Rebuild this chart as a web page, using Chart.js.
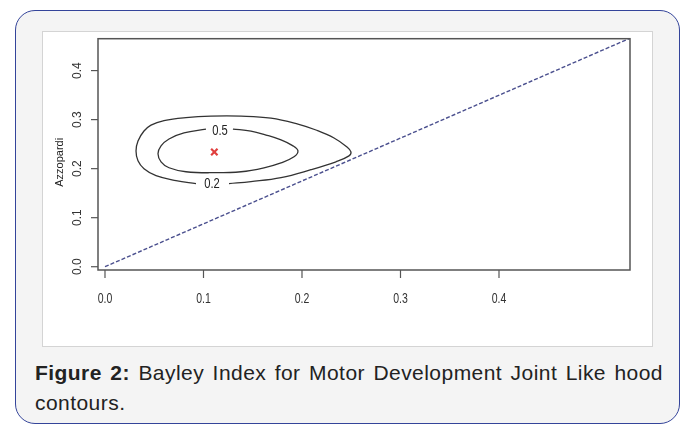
<!DOCTYPE html>
<html><head><meta charset="utf-8">
<script src="https://cdn.jsdelivr.net/npm/chart.js@4.4.1/dist/chart.umd.min.js"></script>
<style>
html,body{margin:0;padding:0;background:#fff;width:684px;height:425px;overflow:hidden;}
#card{position:absolute;left:15px;top:10px;width:665px;height:414px;border:1.5px solid #34449a;border-radius:20px;background:#f4f4f4;box-sizing:border-box;}
#panel{position:absolute;left:42px;top:31px;width:611px;height:316px;background:#fff;border:1px solid #d4d4d4;box-sizing:border-box;}
#panel canvas{position:absolute;left:0;top:0;}
#cap{position:absolute;left:35px;top:358px;width:628px;font-family:"Liberation Sans",Arial,sans-serif;font-size:21px;letter-spacing:0.45px;line-height:30px;color:#222;text-align:justify;}
</style></head>
<body>
<div id="card"></div>
<div id="panel"><canvas id="c" width="609" height="314"></canvas></div>
<div id="cap"><b>Figure 2:</b> Bayley Index for Motor Development Joint Like hood contours.</div>
<script>
// ---- data ----
const xTicks = [0, 0.1, 0.2, 0.3, 0.4];
const yTicks = [0, 0.1, 0.2, 0.3, 0.4];
const tickLabels = ['0.0', '0.1', '0.2', '0.3', '0.4'];
const yTitle = 'Azzopardi';
const outerX = [0.1259,0.1482,0.1787,0.2091,0.2345,0.2477,0.2497,0.2457,0.2325,0.2142,0.1959,0.1685,0.1381,0.1076,0.0822,0.0599,0.0467,0.0396,0.0335,0.0315,0.0335,0.0396,0.0518,0.0721,0.0924];
const outerY = [0.1694,0.1735,0.1816,0.1978,0.2140,0.2261,0.2342,0.2443,0.2626,0.2788,0.2909,0.3031,0.3071,0.3071,0.3041,0.2980,0.2889,0.2767,0.2565,0.2362,0.2160,0.1998,0.1856,0.1755,0.1694];
const innerX = [0.1299,0.1482,0.1635,0.1787,0.1909,0.1959,0.1919,0.1787,0.1614,0.1381,0.1107,0.0822,0.0650,0.0569,0.0538,0.0569,0.0650,0.0802,0.1025];
const innerY = [0.2808,0.2767,0.2686,0.2585,0.2464,0.2362,0.2241,0.2119,0.2018,0.1937,0.1917,0.1937,0.2018,0.2140,0.2302,0.2464,0.2605,0.2727,0.2808];
const contourLabels = ['0.5', '0.2'];
const contourLabelX = [0.1168, 0.1086];
const contourLabelY = [0.2773, 0.1694];
const peakX = [0.111];
const peakY = [0.234];
const diagX = [0, 0.533];
const diagY = [0, 0.466];
const xRange = [-0.0071, 0.533];
const yRange = [-0.0067, 0.465];

const pts = (xs, ys) => xs.map((x, i) => ({x: x, y: ys[i]}));

function narrowText(ctx, t, x, y, k) {
  ctx.save(); ctx.translate(x, y); ctx.scale(k, 1); ctx.fillText(t, 0, 0); ctx.restore();
}

const axesPlugin = {
  id: 'rAxes',
  afterDatasetsDraw(chart) {
    const ctx = chart.ctx, a = chart.chartArea, sx = chart.scales.x, sy = chart.scales.y;
    ctx.save();
    ctx.strokeStyle = '#555'; ctx.lineWidth = 1.5;
    ctx.strokeRect(a.left, a.top, a.right - a.left, a.bottom - a.top);
    ctx.lineWidth = 1.2;
    ctx.fillStyle = '#333';
    // x ticks
    ctx.font = '14px "Liberation Sans", Arial, sans-serif';
    ctx.textAlign = 'center'; ctx.textBaseline = 'middle';
    xTicks.forEach((v, i) => {
      const px = sx.getPixelForValue(v);
      ctx.beginPath(); ctx.moveTo(px, a.bottom); ctx.lineTo(px, a.bottom + 8); ctx.stroke();
      narrowText(ctx, tickLabels[i], px, a.bottom + 29, 0.75);
    });
    // y ticks (rotated)
    ctx.font = '12px "Liberation Sans", Arial, sans-serif';
    yTicks.forEach((v, i) => {
      const py = sy.getPixelForValue(v);
      ctx.beginPath(); ctx.moveTo(a.left, py); ctx.lineTo(a.left - 7, py); ctx.stroke();
      ctx.save(); ctx.translate(a.left - 20, py); ctx.rotate(-Math.PI / 2);
      ctx.fillText(tickLabels[i], 0, 0); ctx.restore();
    });
    // y title
    ctx.save(); ctx.translate(a.left - 38, (a.top + a.bottom) / 2 + 8); ctx.rotate(-Math.PI / 2);
    ctx.font = '11px "Liberation Sans", Arial, sans-serif'; ctx.fillStyle = '#222';
    ctx.fillText(yTitle, 0, 0); ctx.restore();
    // contour labels
    ctx.font = '14px "Liberation Sans", Arial, sans-serif';
    ctx.fillStyle = '#222';
    contourLabels.forEach((t, i) => {
      narrowText(ctx, t, sx.getPixelForValue(contourLabelX[i]), sy.getPixelForValue(contourLabelY[i]), 0.8);
    });
    ctx.restore();
  }
};

new Chart(document.getElementById('c'), {
  type: 'scatter',
  data: {
    datasets: [
      {data: pts(diagX, diagY), showLine: true, borderColor: '#4a4f8e', borderWidth: 1.4, borderDash: [4, 2], pointRadius: 0, tension: 0},
      {data: pts(outerX, outerY), showLine: true, borderColor: '#333', borderWidth: 1.3, pointRadius: 0, tension: 0.4},
      {data: pts(innerX, innerY), showLine: true, borderColor: '#333', borderWidth: 1.3, pointRadius: 0, tension: 0.4},
      {data: pts(peakX, peakY), pointStyle: 'crossRot', pointRadius: 4.5, borderColor: '#e0403f', borderWidth: 2.2, backgroundColor: '#e0403f'}
    ]
  },
  options: {
    responsive: false, animation: false, devicePixelRatio: 1,
    layout: {padding: {left: 55, top: 5, right: 22, bottom: 76}},
    plugins: {legend: {display: false}, tooltip: {enabled: false}},
    scales: {
      x: {type: 'linear', display: false, min: xRange[0], max: xRange[1]},
      y: {type: 'linear', display: false, min: yRange[0], max: yRange[1]}
    }
  },
  plugins: [axesPlugin]
});
</script>
</body></html>
